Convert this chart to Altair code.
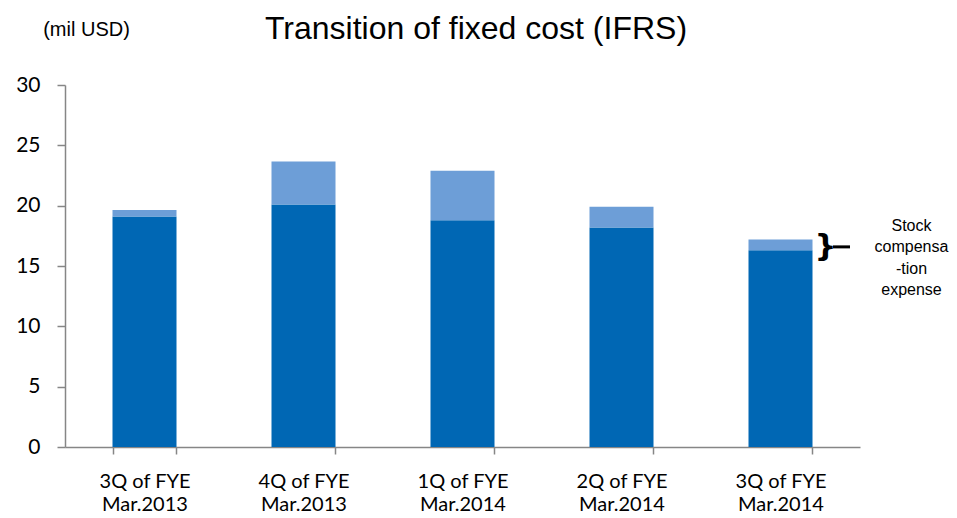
import altair as alt
import pandas as pd

# Quarterly fixed cost (mil USD), split into base cost and stock compensation expense
quarters = [
    "3Q of FYE\nMar.2013",
    "4Q of FYE\nMar.2013",
    "1Q of FYE\nMar.2014",
    "2Q of FYE\nMar.2014",
    "3Q of FYE\nMar.2014",
]
base_cost = [19.1, 20.1, 18.8, 18.2, 16.3]
stock_comp = [0.55, 3.55, 4.1, 1.7, 0.9]

TITLE = "Transition of fixed cost (IFRS)"
DARK = "#0067B4"
LIGHT = "#6D9ED7"
AXIS_GRAY = "#868686"

rows = []
for q, b, s in zip(quarters, base_cost, stock_comp):
    rows.append({"quarter": q, "part": "Fixed cost", "value": b, "order": 0})
    rows.append({"quarter": q, "part": "Stock compensation expense", "value": s, "order": 1})
df = pd.DataFrame(rows)

# bracket sits on the stock compensation segment of the latest quarter
last = pd.DataFrame({
    "quarter": [quarters[-1]],
    "mid": [base_cost[-1] + stock_comp[-1] / 2],
    "note": ["Stock\ncompensa\n-tion\nexpense"],
})

x_enc = alt.X(
    "quarter:N",
    sort=quarters,
    scale=alt.Scale(paddingInner=0.6, paddingOuter=0.3),
    axis=alt.Axis(
        title=None,
        labelAngle=0,
        labelExpr="split(datum.label, '\\n')",
        labelFont="Lato",
        labelFontSize=20,
        labelColor="#000000",
        labelLineHeight=23,
        labelPadding=17,
        tickBand="extent",
        tickSize=7,
        tickColor=AXIS_GRAY,
        tickWidth=1.5,
        domainColor=AXIS_GRAY,
        domainWidth=1.5,
    ),
)

bars = alt.Chart(df).mark_bar(size=64).encode(
    x=x_enc,
    y=alt.Y(
        "value:Q",
        stack="zero",
        scale=alt.Scale(domain=[0, 30]),
        axis=alt.Axis(
            values=[0, 5, 10, 15, 20, 25, 30],
            title="(mil USD)",
            titleAngle=0,
            titleX=21,
            titleY=-50,
            titleAlign="center",
            titleBaseline="alphabetic",
            titleFont="Liberation Sans",
            titleFontSize=20,
            titleFontWeight="normal",
            titleColor="#000000",
            labelFont="Lato",
            labelFontSize=21,
            labelColor="#000000",
            labelPadding=17,
            tickSize=8,
            tickColor=AXIS_GRAY,
            tickWidth=1.5,
            domainColor=AXIS_GRAY,
            domainWidth=1.5,
            grid=False,
        ),
    ),
    color=alt.Color(
        "part:N",
        scale=alt.Scale(
            domain=["Fixed cost", "Stock compensation expense"],
            range=[DARK, LIGHT],
        ),
        legend=None,
    ),
    order=alt.Order("order:Q"),
)

brace = alt.Chart(last).mark_text(
    text="}", font="DejaVu Sans", fontSize=31, fontWeight="bold", dx=45, dy=2,
    color="#000000"
).encode(x=alt.X("quarter:N", sort=quarters), y="mid:Q")

stem = alt.Chart(last).mark_rule(color="#000000", strokeWidth=3, yOffset=2).encode(
    x=alt.value(768), x2=alt.value(785), y="mid:Q"
)

note = alt.Chart(last).mark_text(
    font="Liberation Sans", fontSize=16, lineHeight=21.5, lineBreak="\n",
    align="center", baseline="middle", dx=131, dy=-19, color="#000000"
).encode(x=alt.X("quarter:N", sort=quarters), y="mid:Q", text="note:N")

title = alt.Chart(pd.DataFrame({"t": [TITLE]})).mark_text(
    font="Liberation Sans", fontSize=32, align="center", baseline="alphabetic",
    color="#000000"
).encode(x=alt.value(411), y=alt.value(-46), text="t:N")

chart = (
    alt.layer(bars, brace, stem, note, title)
    .properties(
        width=795,
        height=362,
        autosize=alt.AutoSizeParams(type="none"),
        padding={"left": 65, "top": 85, "right": 97, "bottom": 71},
    )
    .configure(background="#ffffff")
    .configure_view(stroke=None)
)

chart.save("out.html", embed_options={"renderer": "svg", "actions": False})
